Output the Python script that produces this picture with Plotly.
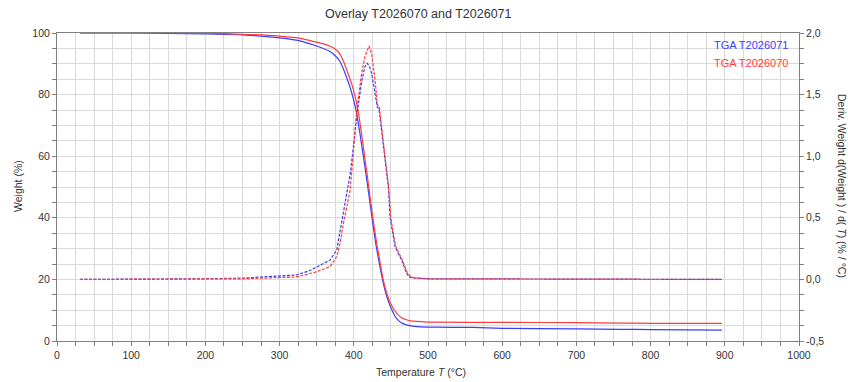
import plotly.graph_objects as go

# ---- data ----
w71_T = [31, 100, 150, 200, 250, 300, 330, 345, 360, 368, 375, 381, 386, 390, 395, 399, 403, 408, 413, 418, 422, 426, 430, 435, 440, 445, 450, 455, 460, 465, 470, 475, 490, 510, 560, 600, 700, 760, 800, 896]
w71_W = [100.0, 100.0, 99.9, 99.7, 99.4, 98.4, 97.3, 96.2, 94.9, 94.0, 92.6, 90.9, 88.3, 85.8, 82.3, 79.0, 74.8, 67.8, 59.8, 51.5, 44.5, 37.5, 31.0, 24.5, 18.5, 14.0, 10.8, 8.3, 6.7, 5.8, 5.3, 5.0, 4.6, 4.5, 4.4, 4.1, 3.95, 3.8, 3.7, 3.5]

w70_T = [31, 100, 150, 200, 250, 300, 330, 345, 360, 368, 375, 381, 386, 390, 395, 399, 406, 410, 414, 418, 422, 426, 430, 435, 440, 445, 450, 455, 460, 465, 470, 475, 490, 510, 600, 700, 760, 800, 896]
w70_W = [100.0, 100.0, 100.0, 99.9, 99.6, 99.0, 98.2, 97.3, 96.4, 95.7, 94.8, 93.2, 90.9, 88.3, 85.0, 82.0, 74.5, 68.0, 61.0, 54.0, 46.5, 39.5, 33.0, 26.0, 19.5, 15.0, 12.0, 9.9, 8.4, 7.5, 7.0, 6.6, 6.3, 6.1, 6.05, 5.95, 5.8, 5.75, 5.7]

d71_T = [31, 100, 200, 250, 300, 323, 340, 350, 360, 368, 377, 381, 386, 395, 399, 404, 411, 415, 418, 421, 424, 428.6, 431.7, 434, 437.6, 442, 446.6, 449, 452, 455.5, 460, 464.5, 468, 471, 475, 480, 500, 600, 896]
d71_D = [0.0, 0.0, 0.005, 0.01, 0.03, 0.036, 0.07, 0.103, 0.13, 0.157, 0.239, 0.374, 0.537, 0.85, 1.05, 1.33, 1.62, 1.727, 1.754, 1.73, 1.673, 1.51, 1.40, 1.38, 1.21, 1.0, 0.75, 0.5, 0.38, 0.27, 0.21, 0.157, 0.10, 0.05, 0.02, 0.012, 0.005, 0.003, 0.0]

d70_T = [31, 100, 200, 250, 300, 323, 350, 368, 377, 381, 386, 395, 399, 404, 410.6, 415, 420.5, 424, 428.6, 431.7, 434.4, 437.6, 442, 447, 450, 453, 456.5, 461, 465.5, 469, 472.5, 477, 482, 500, 600, 896]
d70_D = [0.0, 0.0, 0.003, 0.005, 0.015, 0.02, 0.062, 0.103, 0.184, 0.279, 0.455, 0.72, 1.0, 1.375, 1.673, 1.808, 1.894, 1.835, 1.618, 1.42, 1.40, 1.213, 1.0, 0.75, 0.5, 0.38, 0.27, 0.21, 0.157, 0.10, 0.05, 0.02, 0.012, 0.005, 0.003, 0.0]

x_ticks = [0, 100, 200, 300, 400, 500, 600, 700, 800, 900, 1000]
y_ticks = [0, 20, 40, 60, 80, 100]
y2_ticks = [-0.5, 0.0, 0.5, 1.0, 1.5, 2.0]
y2_labels = ["-0,5", "0,0", "0,5", "1,0", "1,5", "2,0"]

BLUE = "#3c3cff"
RED = "#ff3c3c"
FONT = "Liberation Sans, Arial, sans-serif"
GRID = "#dadada"
AX = "#808080"
TXT = "#333333"

fig = go.Figure()
fig.add_trace(go.Scatter(x=d71_T, y=d71_D, mode="lines", yaxis="y2",
                         line=dict(color=BLUE, width=1.2, dash="3px,1.5px"), showlegend=False))
fig.add_trace(go.Scatter(x=d70_T, y=d70_D, mode="lines", yaxis="y2",
                         line=dict(color=RED, width=1.2, dash="3px,1.5px"), showlegend=False))
fig.add_trace(go.Scatter(x=w71_T, y=w71_W, mode="lines",
                         line=dict(color=BLUE, width=1.2, shape="spline", smoothing=0.5), showlegend=False))
fig.add_trace(go.Scatter(x=w70_T, y=w70_W, mode="lines",
                         line=dict(color=RED, width=1.2, shape="spline", smoothing=0.5), showlegend=False))

fig.update_layout(
    width=848, height=382,
    margin=dict(l=57, r=49, t=33, b=41),
    paper_bgcolor="white", plot_bgcolor="white",
    font=dict(family=FONT, size=11, color=TXT),
    hovermode=False,
    xaxis=dict(range=[0, 1000], tickvals=x_ticks, showgrid=True, gridcolor=GRID, gridwidth=1,
               showline=True, linecolor=AX, linewidth=1, mirror=True,
               ticks="outside", ticklen=4, tickcolor=AX, zeroline=False,
               minor=dict(dtick=25, showgrid=True, gridcolor=GRID, ticks="outside", ticklen=4, tickcolor=AX),
               tickfont=dict(size=10.5, color=TXT)),
    yaxis=dict(range=[0, 100], tickvals=y_ticks, showgrid=True, gridcolor=GRID, gridwidth=1,
               showline=True, linecolor=AX, linewidth=1,
               ticks="outside", ticklen=4, tickcolor=AX, zeroline=False,
               minor=dict(dtick=5, showgrid=True, gridcolor=GRID, ticks="outside", ticklen=4, tickcolor=AX),
               tickfont=dict(size=10.5, color=TXT)),
    yaxis2=dict(range=[-0.5, 2.0], overlaying="y", side="right", tickvals=y2_ticks, ticktext=y2_labels,
                showgrid=False, showline=True, linecolor=AX, linewidth=1, zeroline=False,
                ticks="outside", ticklen=4, tickcolor=AX,
                minor=dict(dtick=0.125, tick0=-0.5, ticks="outside", ticklen=4, tickcolor=AX, showgrid=False),
                tickfont=dict(size=10.5, color=TXT)),
)

# page pixel -> paper coordinates (plot area spans page x 57..799, y 33..341)
def px_x(px):
    return (px - 57) / 742.0

def px_y(py):
    return (341 - py) / 308.0

annots = [
    dict(text="Overlay T2026070 and T2026071", x=px_x(418), y=px_y(14), font=dict(size=12.5, color=TXT)),
    dict(text="Temperature <i>T</i> (°C)", x=px_x(421), y=px_y(372), font=dict(size=10.5, color=TXT)),
    dict(text="Weight (%)", x=px_x(18), y=px_y(186), textangle=-90, font=dict(size=10.5, color=TXT)),
    dict(text="Deriv. Weight d(Weight ) / d( <i>T</i>) (% / °C)", x=px_x(842), y=px_y(186), textangle=90,
         font=dict(size=10.5, color=TXT)),
    dict(text="TGA T2026071", x=px_x(790), y=px_y(45), xanchor="right", font=dict(size=11, color=BLUE)),
    dict(text="TGA T2026070", x=px_x(790), y=px_y(63), xanchor="right", font=dict(size=11, color=RED)),
]
for a in annots:
    base = dict(xref="paper", yref="paper", showarrow=False, xanchor="center", yanchor="middle")
    base.update(a)
    fig.add_annotation(**base)

# remove the default page margin so the 848x382 figure fills the window exactly
fig.write_html("out.html", config={"displayModeBar": False},
               post_script="document.body.style.margin='0';document.body.style.overflow='hidden';")
